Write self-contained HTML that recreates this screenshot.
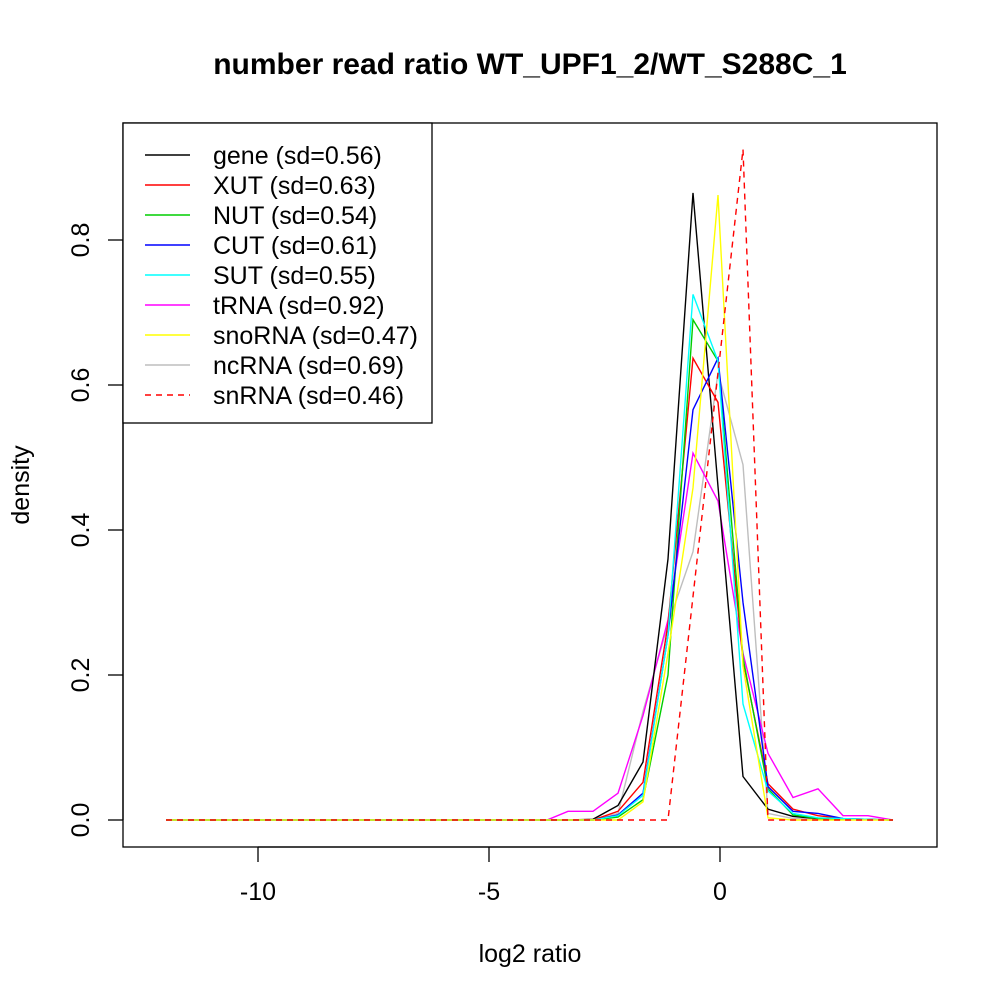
<!DOCTYPE html>
<html><head><meta charset="utf-8"><style>body{margin:0;background:#fff}svg{display:block}</style></head><body>
<svg width="1000" height="1000" xmlns="http://www.w3.org/2000/svg" font-family="Liberation Sans, sans-serif">
<rect width="1000" height="1000" fill="#fff"/>
<text x="530" y="74" font-size="30" font-weight="bold" text-anchor="middle">number read ratio WT_UPF1_2/WT_S288C_1</text>
<rect x="123" y="123" width="814" height="724" fill="none" stroke="#000" stroke-width="1.3"/>
<g stroke="#000" stroke-width="1.3">
<line x1="258" y1="847" x2="258" y2="862"/><line x1="489" y1="847" x2="489" y2="862"/><line x1="720" y1="847" x2="720" y2="862"/>
<line x1="258" y1="847" x2="720" y2="847"/>
<line x1="123" y1="820" x2="108" y2="820"/><line x1="123" y1="675" x2="108" y2="675"/><line x1="123" y1="530" x2="108" y2="530"/><line x1="123" y1="385" x2="108" y2="385"/><line x1="123" y1="240" x2="108" y2="240"/>
<line x1="123" y1="240" x2="123" y2="820"/>
</g>
<g font-size="25" text-anchor="middle">
<text x="258" y="900">-10</text><text x="489" y="900">-5</text><text x="720" y="900">0</text>
<text transform="translate(89,820) rotate(-90)">0.0</text>
<text transform="translate(89,675) rotate(-90)">0.2</text>
<text transform="translate(89,530) rotate(-90)">0.4</text>
<text transform="translate(89,385) rotate(-90)">0.6</text>
<text transform="translate(89,240) rotate(-90)">0.8</text>
<text x="530" y="962">log2 ratio</text>
<text transform="translate(29,485) rotate(-90)">density</text>
</g>
<g transform="translate(0,820) scale(1,-725)" fill="none" stroke-width="1.4">
<polyline vector-effect="non-scaling-stroke" stroke="#bebebe" points="166,0 593,0 618,0.009 643,0.15 668,0.27 693,0.37 718,0.617 743,0.49 768,0.009 793,0.002 893,0"/>
<polyline vector-effect="non-scaling-stroke" stroke="#ff00ff" points="166,0 547,0 568,0.012 593,0.012 618,0.037 643,0.144 668,0.276 693,0.506 718,0.44 743,0.23 768,0.092 793,0.031 818,0.043 843,0.006 868,0.006 893,0"/>
<polyline vector-effect="non-scaling-stroke" stroke="#000" points="166,0 568,0 593,0.001 618,0.02 643,0.08 668,0.36 693,0.865 718,0.46 743,0.06 768,0.015 793,0.005 818,0.002 893,0"/>
<polyline vector-effect="non-scaling-stroke" stroke="#ff0000" points="166,0 593,0 618,0.012 643,0.052 668,0.27 693,0.637 718,0.576 743,0.22 768,0.05 793,0.015 818,0.006 843,0.002 893,0"/>
<polyline vector-effect="non-scaling-stroke" stroke="#00cd00" points="166,0 593,0 618,0.004 643,0.028 668,0.2 693,0.69 718,0.633 743,0.224 768,0.043 793,0.007 818,0.002 893,0"/>
<polyline vector-effect="non-scaling-stroke" stroke="#0000ff" points="166,0 593,0 618,0.007 643,0.037 668,0.255 693,0.566 718,0.637 743,0.3 768,0.046 793,0.012 818,0.009 843,0.002 893,0"/>
<polyline vector-effect="non-scaling-stroke" stroke="#00ffff" points="166,0 593,0 618,0.006 643,0.034 668,0.255 693,0.725 718,0.633 743,0.16 768,0.04 793,0.009 818,0.003 893,0"/>
<polyline vector-effect="non-scaling-stroke" stroke="#ffff00" points="166,0 618,0 643,0.025 668,0.23 693,0.458 718,0.862 743,0.212 768,0.003 793,0 893,0"/>
<polyline vector-effect="non-scaling-stroke" stroke="#ff0000" stroke-dasharray="6,5" points="166,0 668,0 743,0.925 768,0 893,0"/>
</g>
<rect x="123" y="123" width="309" height="300" fill="#fff" stroke="#000" stroke-width="1.3"/>
<g stroke-width="1.4">
<line x1="145" y1="155" x2="190" y2="155" stroke="#000"/>
<line x1="145" y1="185" x2="190" y2="185" stroke="#ff0000"/>
<line x1="145" y1="215" x2="190" y2="215" stroke="#00cd00"/>
<line x1="145" y1="245" x2="190" y2="245" stroke="#0000ff"/>
<line x1="145" y1="275" x2="190" y2="275" stroke="#00ffff"/>
<line x1="145" y1="305" x2="190" y2="305" stroke="#ff00ff"/>
<line x1="145" y1="335" x2="190" y2="335" stroke="#ffff00"/>
<line x1="145" y1="365" x2="190" y2="365" stroke="#bebebe"/>
<line x1="145" y1="395" x2="190" y2="395" stroke="#ff0000" stroke-dasharray="6,5"/>
</g>
<g font-size="25">
<text x="213" y="164">gene (sd=0.56)</text>
<text x="213" y="194">XUT (sd=0.63)</text>
<text x="213" y="224">NUT (sd=0.54)</text>
<text x="213" y="254">CUT (sd=0.61)</text>
<text x="213" y="284">SUT (sd=0.55)</text>
<text x="213" y="314">tRNA (sd=0.92)</text>
<text x="213" y="344">snoRNA (sd=0.47)</text>
<text x="213" y="374">ncRNA (sd=0.69)</text>
<text x="213" y="404">snRNA (sd=0.46)</text>
</g>
</svg>
</body></html>
